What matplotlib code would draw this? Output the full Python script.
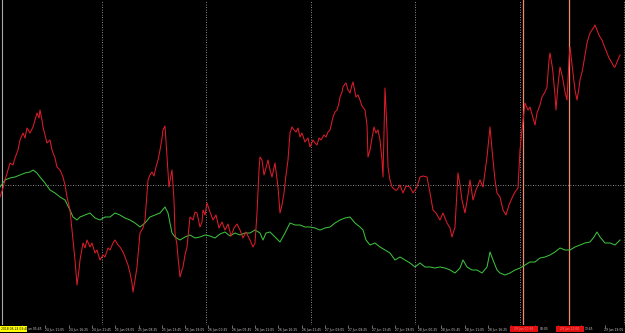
import matplotlib
matplotlib.use('Agg')
import matplotlib.pyplot as plt
from matplotlib.patches import Rectangle

# bar index (M5 bars) and price level in points
red_x = [0, 3, 5, 8, 10, 13, 15, 18, 20, 23, 25, 27, 30, 33, 35, 37, 39, 40, 42, 43,
         45, 47, 50, 52, 55, 57, 60, 63, 65, 67, 70, 72, 75, 77, 79, 80, 83, 85, 87, 90,
         92, 95, 97, 100, 103, 105, 108, 110, 113, 115, 118, 120, 123, 125, 128, 130, 132, 133, 135, 137,
         140, 143, 145, 148, 150, 152, 154, 156, 158, 160, 162, 163, 165, 167, 169, 171, 172, 174, 175, 177,
         178, 180, 182, 183, 185, 187, 190, 193, 195, 197, 200, 202, 203, 205, 207, 210, 213, 216, 219, 222,
         225, 228, 231, 234, 237, 240, 243, 246, 250, 253, 255, 257, 259, 260, 262, 264, 266, 268, 270, 272,
         275, 278, 280, 282, 284, 286, 288, 290, 292, 294, 296, 298, 300, 302, 305, 308, 310, 313, 315, 317,
         319, 321, 324, 326, 328, 330, 333, 335, 337, 339, 340, 342, 343, 345, 346, 348, 350, 352, 353, 355,
         356, 358, 360, 362, 365, 367, 368, 370, 372, 374, 376, 378, 380, 382, 383, 385, 387, 388, 390, 392,
         395, 397, 400, 403, 406, 410, 413, 417, 420, 423, 427, 430, 433, 436, 440, 443, 447, 450, 452, 455,
         458, 460, 462, 465, 468, 470, 473, 476, 480, 483, 487, 490, 493, 495, 497, 500, 503, 506, 509, 512,
         515, 518, 520, 522, 525, 528, 530, 533, 535, 537, 540, 542, 545, 547, 549, 550, 552, 553, 555, 556,
         558, 560, 562, 563, 565, 567, 569, 570, 572, 573, 575, 577, 579, 580, 582, 583, 585, 587, 589, 590,
         592, 594, 595, 597, 599, 600, 602, 603, 605, 607, 609, 612, 614, 615, 617, 620]
red_v = [128, 137, 145, 155, 162, 160, 167, 175, 185, 192, 187, 197, 192, 198, 205, 212, 207, 215, 205, 198,
         190, 182, 185, 175, 167, 158, 155, 148, 140, 128, 115, 95, 65, 40, 55, 65, 82, 77, 85, 78,
         82, 72, 75, 65, 70, 68, 77, 75, 82, 85, 80, 78, 73, 68, 60, 52, 42, 33, 45, 58,
         92, 97, 105, 145, 150, 153, 149, 158, 165, 175, 187, 195, 199, 168, 138, 150, 155, 125, 92, 80,
         68, 48, 55, 58, 70, 78, 108, 105, 113, 112, 98, 103, 115, 110, 122, 113, 105, 110, 97, 103,
         95, 101, 89, 97, 101, 95, 87, 93, 85, 78, 82, 112, 155, 168, 165, 150, 157, 165, 155, 148,
         162, 138, 112, 120, 132, 150, 165, 192, 198, 195, 193, 197, 188, 192, 183, 187, 178, 185, 182, 180,
         187, 185, 190, 188, 193, 195, 208, 213, 215, 222, 228, 233, 238, 241, 242, 235, 232, 240, 243, 233,
         228, 230, 225, 219, 215, 200, 168, 175, 187, 198, 192, 195, 185, 165, 148, 237, 195, 158, 145, 138,
         135, 135, 140, 132, 139, 138, 132, 138, 148, 149, 148, 132, 115, 112, 105, 112, 102, 97, 88, 98,
         152, 140, 125, 112, 130, 145, 125, 135, 145, 138, 168, 198, 165, 145, 132, 128, 115, 110, 120, 127,
         133, 137, 175, 195, 222, 215, 218, 207, 200, 212, 220, 228, 233, 238, 265, 272, 260, 252, 230, 215,
         240, 258, 250, 245, 233, 225, 265, 278, 260, 252, 235, 225, 237, 245, 253, 258, 270, 282, 289, 292,
         295, 298, 300, 295, 290, 288, 285, 282, 277, 272, 267, 262, 258, 258, 263, 270]

green_x = [0, 5, 10, 15, 20, 25, 30, 33, 37, 40, 45, 50, 55, 60, 65, 70, 73, 77, 80, 85,
           90, 95, 100, 105, 110, 115, 120, 125, 130, 135, 140, 145, 150, 155, 160, 165, 168, 172, 175, 180,
           185, 190, 195, 200, 205, 210, 215, 220, 225, 230, 235, 240, 245, 250, 255, 260, 263, 266, 270, 275,
           280, 285, 290, 295, 300, 305, 310, 315, 320, 325, 330, 335, 340, 345, 350, 355, 360, 363, 366, 370,
           375, 380, 385, 390, 395, 400, 405, 410, 415, 420, 425, 430, 435, 440, 445, 450, 455, 460, 463, 467,
           472, 477, 482, 487, 490, 493, 497, 500, 505, 510, 515, 520, 525, 530, 535, 540, 545, 550, 555, 560,
           565, 570, 575, 580, 585, 590, 594, 597, 600, 605, 610, 615, 620]
green_v = [138, 145, 147, 148, 150, 152, 153, 155, 152, 148, 142, 135, 132, 128, 125, 115, 108, 105, 108, 110,
           112, 107, 105, 108, 108, 112, 110, 107, 105, 102, 98, 102, 108, 110, 112, 118, 112, 92, 88, 85,
           88, 90, 87, 88, 90, 89, 87, 91, 93, 89, 92, 90, 92, 92, 95, 92, 85, 92, 93, 88,
           83, 92, 102, 100, 100, 98, 98, 97, 95, 97, 98, 102, 105, 107, 108, 102, 98, 95, 85, 80,
           82, 78, 75, 72, 65, 68, 65, 62, 58, 62, 58, 58, 57, 58, 57, 55, 52, 57, 65, 58,
           55, 55, 52, 58, 73, 65, 55, 52, 50, 52, 55, 57, 60, 63, 63, 67, 68, 70, 73, 77,
           75, 75, 78, 80, 82, 83, 88, 93, 88, 82, 82, 80, 85]

# time scale labels; '' where a label box hides the label, partial text where it is cut
tick_labels = ['', '24 Jun 11:05', '24 Jun 16:25', '24 Jun 21:45',
               '25 Jun 03:05', '25 Jun 08:25', '25 Jun 13:45', '25 Jun 19:05',
               '26 Jun 00:25', '26 Jun 05:45', '26 Jun 11:05', '26 Jun 16:25',
               '26 Jun 21:45', '27 Jun 03:05', '27 Jun 08:25', '27 Jun 13:45',
               '27 Jun 19:05', '28 Jun 00:25', '28 Jun 05:45', '28 Jun 11:05',
               '28 Jun 16:25', '', '', '', '', '29 Jun 19:05']
tick_bars = [22 + 23.3 * i for i in range(len(tick_labels))]
cut_labels = ['un 05:45', '03:05', '13:45']
cut_bars = [28, 539.5, 584.5]

grid_bars = [101.5, 206, 310.5, 415, 520, 624]
grid_level = 140
vline_bars = [523, 569]
vline_labels = ['29 Jun 00:30', '29 Jun 11:00']

fig = plt.figure(figsize=(6.25, 3.33), dpi=100, facecolor='black')
ax = fig.add_axes([0, 8 / 333, 1, 325 / 333], facecolor='black')

# grid
for gx in grid_bars:
    ax.axvline(gx, color='#b8b8b8', lw=0.6, linestyle=(0, (1, 2)))
ax.axhline(grid_level, color='#b8b8b8', lw=0.6, linestyle=(0, (1, 2)))
ax.axvline(1.5, color='#a8a8a8', lw=0.8)

# vertical line objects
for vx in vline_bars:
    ax.axvline(vx, color='#f08a70', lw=0.9)

ax.plot(green_x, green_v, color='#3cc03c', lw=0.75)
ax.plot(red_x, red_v, color='#dc1c2a', lw=0.75)

ax.set_xlim(0, 625)
ax.set_ylim(0, 325)
for s in ax.spines.values():
    s.set_visible(False)
ax.set_yticks([])
ax.set_xticks(tick_bars)
ax.set_xticklabels(tick_labels, ha='left', fontsize=2.2, color='#d0d0d0')
ax.tick_params(axis='x', colors='#9a9a9a', length=2, width=0.5, pad=0.5, labelcolor='#d0d0d0')

xf = ax.get_xaxis_transform()
for cx, lab in zip(cut_bars, cut_labels):
    ax.text(cx, -0.0125, lab, transform=xf, fontsize=2.2, color='#d0d0d0',
            ha='left', va='center', clip_on=False)

# label boxes in the time scale
fig.patches.append(Rectangle((0, 1 / 333), 27 / 625, 6 / 333, transform=fig.transFigure,
                             facecolor='#ffff00', edgecolor='none', zorder=5))
fig.text(1 / 625, 4 / 333, '2018.06.24 03:40', fontsize=2.2, color='black', va='center', zorder=6)
for vx, lab in zip(vline_bars, vline_labels):
    ax.add_patch(Rectangle((vx - 13.5, -0.0215), 28, 0.0185, transform=xf, facecolor='#e01010',
                           edgecolor='none', clip_on=False, zorder=5))
    ax.text(vx + 0.5, -0.0125, lab, transform=xf, fontsize=2.2, color='#ff8080',
            ha='center', va='center', zorder=6, clip_on=False)

fig.savefig('out.png', dpi=100, facecolor='black')
